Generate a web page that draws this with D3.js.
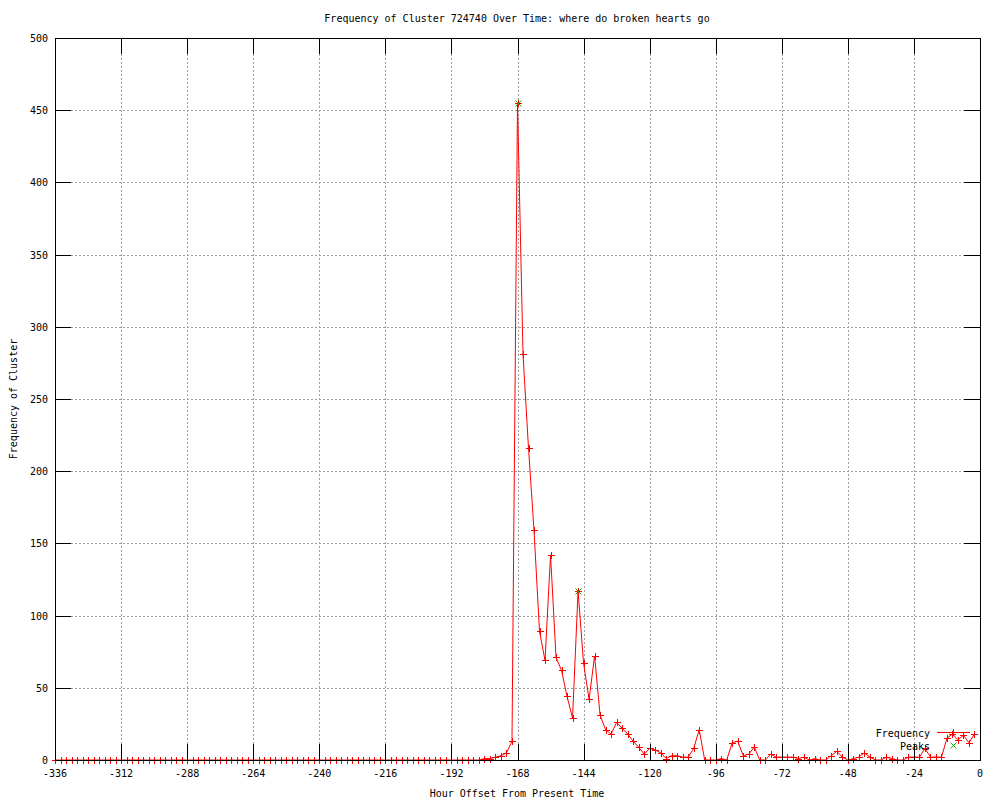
<!DOCTYPE html>
<html>
<head>
<meta charset="utf-8">
<script src="https://d3js.org/d3.v7.min.js"></script>
<style>
body { margin: 0; background: #fff; }
text { font-family: "DejaVu Sans Mono", monospace; font-size: 10px; fill: #000; }
</style>
</head>
<body>
<div id="chart"></div>
<script>

// hour offsets (every 2 hours) and the cluster frequency at each
var hours = [
  -336,-334,-332,-330,-328,-326,-324,-322,-320,-318,-316,-314,-312,-310,-308,-306,-304,-302,-300,-298,
  -296,-294,-292,-290,-288,-286,-284,-282,-280,-278,-276,-274,-272,-270,-268,-266,-264,-262,-260,-258,
  -256,-254,-252,-250,-248,-246,-244,-242,-240,-238,-236,-234,-232,-230,-228,-226,-224,-222,-220,-218,
  -216,-214,-212,-210,-208,-206,-204,-202,-200,-198,-196,-194,-192,-190,-188,-186,-184,-182,-180,-178,
  -176,-174,-172,-170,-168,-166,-164,-162,-160,-158,-156,-154,-152,-150,-148,-146,-144,-142,-140,-138,
  -136,-134,-132,-130,-128,-126,-124,-122,-120,-118,-116,-114,-112,-110,-108,-106,-104,-102,-100,-98,
  -96,-94,-92,-90,-88,-86,-84,-82,-80,-78,-76,-74,-72,-70,-68,-66,-64,-62,-60,-58,
  -56,-54,-52,-50,-48,-46,-44,-42,-40,-38,-36,-34,-32,-30,-28,-26,-24,-22,-20,-18,
  -16,-14,-12,-10,-8,-6,-4,-2
];
var frequency = [
  0,0,0,0,0,0,0,0,0,0,0,0,0,0,0,0,0,0,0,0,
  0,0,0,0,0,0,0,0,0,0,0,0,0,0,0,0,0,0,0,0,
  0,0,0,0,0,0,0,0,0,0,0,0,0,0,0,0,0,0,0,0,
  0,0,0,0,0,0,0,0,0,0,0,0,0,0,0,0,0,0,1,1,
  2,3,5,13,455,281,216,159,89,69,142,71,62,44,29,117,67,42,72,31,
  21,18,26,22,18,13,9,4,8,7,5,1,3,3,2,2,8,21,0,0,
  0,1,0,12,13,3,4,9,0,0,4,2,2,2,2,1,2,0,1,0,
  0,3,6,2,0,1,2,5,2,0,0,2,1,0,0,2,2,2,8,2,
  2,2,15,18,14,17,12,18
];
var peakHours = [-168, -146];
var peakValues = [455, 117];

var xTicks = [-336,-312,-288,-264,-240,-216,-192,-168,-144,-120,-96,-72,-48,-24,0];
var yTicks = [0,50,100,150,200,250,300,350,400,450,500];

var titleText = "Frequency of Cluster 724740 Over Time: where do broken hearts go";
var xLabel = "Hour Offset From Present Time";
var yLabel = "Frequency of Cluster";

var W = 1000, H = 800;
var margin = {top: 38, right: 20, bottom: 40, left: 55};
var width = W - margin.left - margin.right,
    height = H - margin.top - margin.bottom;
var tickLen = 16;

var svg = d3.select("#chart").append("svg")
  .attr("width", W)
  .attr("height", H);

var x = d3.scaleLinear().domain([-336, 0]).range([margin.left, margin.left + width]);
var y = d3.scaleLinear().domain([0, 500]).range([margin.top + height, margin.top]);

var data = hours.map(function(h, i) { return {h: h, v: frequency[i]}; });
var peaks = peakHours.map(function(h, i) { return {h: h, v: peakValues[i]}; });

var x0 = margin.left, x1 = margin.left + width,
    y0 = margin.top + height, y1 = margin.top;

// grid (dotted, between the inward ticks)
var grid = svg.append("g")
  .attr("stroke", "#a0a0a0")
  .attr("stroke-width", 1)
  .attr("stroke-dasharray", "2,2")
  .attr("shape-rendering", "crispEdges");

xTicks.slice(1, -1).forEach(function(t) {
  grid.append("line")
    .attr("x1", Math.round(x(t)) + 0.5).attr("x2", Math.round(x(t)) + 0.5)
    .attr("y1", y0 - tickLen).attr("y2", y1 + tickLen);
});
yTicks.slice(1, -1).forEach(function(t) {
  grid.append("line")
    .attr("y1", Math.round(y(t)) + 0.5).attr("y2", Math.round(y(t)) + 0.5)
    .attr("x1", x0 + tickLen).attr("x2", x1 - tickLen);
});

// frequency line + markers
var line = d3.line().x(function(d) { return x(d.h); }).y(function(d) { return y(d.v); });

svg.append("path")
  .datum(data)
  .attr("fill", "none")
  .attr("stroke", "#ff0000")
  .attr("stroke-width", 1)
  .attr("d", line);

var plusSize = 3.5;
function plusPath(cx, cy) {
  return "M" + (cx - plusSize) + "," + cy + "H" + (cx + plusSize) +
         "M" + cx + "," + (cy - plusSize) + "V" + (cy + plusSize);
}
function crossPath(cx, cy) {
  var s = 3;
  return "M" + (cx - s) + "," + (cy - s) + "L" + (cx + s) + "," + (cy + s) +
         "M" + (cx - s) + "," + (cy + s) + "L" + (cx + s) + "," + (cy - s);
}

svg.append("g").selectAll("path")
  .data(data)
  .join("path")
    .attr("fill", "none")
    .attr("stroke", "#ff0000")
    .attr("stroke-width", 1)
    .attr("d", function(d) { return plusPath(Math.round(x(d.h)) + 0.5, Math.round(y(d.v)) + 0.5); });

// peaks
svg.append("g").selectAll("path")
  .data(peaks)
  .join("path")
    .attr("fill", "none")
    .attr("stroke", "#00c000")
    .attr("stroke-width", 1)
    .attr("d", function(d) { return crossPath(Math.round(x(d.h)) + 0.5, Math.round(y(d.v)) + 0.5); });

// border + ticks
var border = svg.append("g")
  .attr("stroke", "#000")
  .attr("stroke-width", 1)
  .attr("fill", "none")
  .attr("shape-rendering", "crispEdges");

border.append("rect")
  .attr("x", x0 + 0.5).attr("y", y1 + 0.5)
  .attr("width", width).attr("height", height);

xTicks.forEach(function(t) {
  var px = Math.round(x(t)) + 0.5;
  border.append("line").attr("x1", px).attr("x2", px).attr("y1", y0).attr("y2", y0 - tickLen);
  border.append("line").attr("x1", px).attr("x2", px).attr("y1", y1).attr("y2", y1 + tickLen);
});
yTicks.forEach(function(t) {
  var py = Math.round(y(t)) + 0.5;
  border.append("line").attr("y1", py).attr("y2", py).attr("x1", x0).attr("x2", x0 + tickLen);
  border.append("line").attr("y1", py).attr("y2", py).attr("x1", x1).attr("x2", x1 - tickLen);
});

// tick labels
svg.append("g").selectAll("text")
  .data(xTicks)
  .join("text")
    .attr("x", function(d) { return x(d); })
    .attr("y", y0 + 17)
    .attr("text-anchor", "middle")
    .text(function(d) { return d3.format("d")(d).replace("\u2212", "-"); });

svg.append("g").selectAll("text")
  .data(yTicks)
  .join("text")
    .attr("x", x0 - 7)
    .attr("y", function(d) { return y(d) + 4; })
    .attr("text-anchor", "end")
    .text(function(d) { return d; });

// title and axis labels
svg.append("text")
  .attr("x", 517).attr("y", 22)
  .attr("text-anchor", "middle")
  .text(titleText);

svg.append("text")
  .attr("x", 517).attr("y", 797)
  .attr("text-anchor", "middle")
  .text(xLabel);

svg.append("text")
  .attr("transform", "translate(17," + (margin.top + height / 2) + ") rotate(-90)")
  .attr("text-anchor", "middle")
  .text(yLabel);

// legend
var lg = svg.append("g");
lg.append("text").attr("x", 930).attr("y", 737).attr("text-anchor", "end").text("Frequency");
lg.append("line")
  .attr("x1", 937).attr("x2", 970).attr("y1", 732.5).attr("y2", 732.5)
  .attr("stroke", "#ff0000");
lg.append("path")
  .attr("fill", "none").attr("stroke", "#ff0000")
  .attr("d", plusPath(953.5, 732.5));
lg.append("text").attr("x", 930).attr("y", 750).attr("text-anchor", "end").text("Peaks");
lg.append("path")
  .attr("fill", "none").attr("stroke", "#00c000")
  .attr("d", crossPath(953.5, 745.5));

</script>
</body>
</html>
